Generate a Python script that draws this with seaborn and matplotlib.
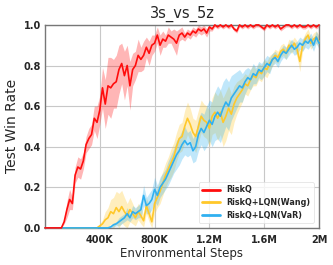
import numpy as np
import pandas as pd
import matplotlib
matplotlib.use("Agg")
import matplotlib.pyplot as plt
import seaborn as sns

# steps every 20K, 0 .. 2M
steps = [i * 20000 for i in range(101)]

riskq = [0, 0, 0, 0, 0, 0, 0.0, 0.03, 0.09, 0.14,
         0.12, 0.26, 0.30, 0.29, 0.33, 0.41, 0.44, 0.46, 0.54, 0.52,
         0.58, 0.69, 0.61, 0.70, 0.69, 0.71, 0.72, 0.78, 0.81, 0.75,
         0.80, 0.70, 0.78, 0.80, 0.85, 0.83, 0.85, 0.89, 0.86, 0.90,
         0.91, 0.95, 0.90, 0.93, 0.92, 0.95, 0.94, 0.93, 0.91, 0.95,
         0.96, 0.94, 0.96, 0.95, 0.97, 0.96, 0.98, 0.97, 0.98, 0.96,
         0.99, 0.98, 1.0, 0.99, 1.0, 0.99, 1.0, 0.99, 1.0, 0.98,
         0.97, 1.0, 0.99, 1.0, 0.99, 1.0, 0.99, 1.0, 1.0, 0.99,
         0.98, 1.0, 0.99, 1.0, 0.99, 1.0, 0.98, 0.99, 1.0, 1.0,
         0.99, 1.0, 0.99, 1.0, 0.99, 0.99, 1.0, 0.99, 1.0, 0.99,
         1.0]
riskq_sd = [0, 0, 0, 0, 0, 0, 0, 0.01, 0.04, 0.05,
            0.03, 0.04, 0.05, 0.05, 0.04, 0.04, 0.05, 0.05, 0.06, 0.08,
            0.07, 0.10, 0.12, 0.14, 0.15, 0.12, 0.13, 0.12, 0.10, 0.12,
            0.10, 0.12, 0.08, 0.07, 0.08, 0.06, 0.07, 0.05, 0.06, 0.05,
            0.04, 0.04, 0.05, 0.04, 0.03, 0.04, 0.03, 0.05, 0.06, 0.03,
            0.03, 0.02, 0.02, 0.02, 0.02, 0.02, 0.02, 0.02, 0.02, 0.02,
            0.02] + [0.01] * 40

wang = [0] * 19 + [
    0.0, 0.01, 0.02, 0.04, 0.05, 0.08, 0.07, 0.10, 0.08, 0.105,
    0.08, 0.06, 0.09, 0.07, 0.05, 0.08, 0.06, 0.035, 0.11, 0.07,
    0.03, 0.12, 0.15, 0.18, 0.22, 0.26, 0.29, 0.32, 0.35, 0.40,
    0.44, 0.45, 0.50, 0.54, 0.51, 0.47, 0.45, 0.50, 0.55, 0.53,
    0.52, 0.49, 0.55, 0.57, 0.54, 0.57, 0.52, 0.55, 0.59, 0.56,
    0.61, 0.64, 0.66, 0.68, 0.71, 0.70, 0.73, 0.75, 0.74, 0.77,
    0.76, 0.79, 0.78, 0.81, 0.83, 0.85, 0.84, 0.87, 0.88, 0.86,
    0.90, 0.89, 0.91, 0.88, 0.82, 0.90, 0.93, 0.95, 0.91, 0.93,
    0.94, 0.92]
wang_sd = [0] * 20 + [
    0.01, 0.02, 0.04, 0.05, 0.06, 0.08, 0.08, 0.09, 0.08,
    0.07, 0.06, 0.06, 0.05, 0.04, 0.04, 0.04, 0.03, 0.04, 0.04,
    0.03, 0.05, 0.05, 0.06, 0.06, 0.06, 0.06, 0.07, 0.07, 0.07,
    0.07, 0.07, 0.08, 0.08, 0.08, 0.07, 0.08, 0.08, 0.08, 0.08,
    0.08, 0.09, 0.09, 0.10, 0.11, 0.11, 0.12, 0.12, 0.11, 0.10,
    0.09, 0.08, 0.07, 0.06, 0.05, 0.05, 0.05, 0.05, 0.04, 0.04,
    0.04, 0.04, 0.04, 0.04, 0.03, 0.03, 0.03, 0.03, 0.03, 0.03,
    0.03, 0.03, 0.03, 0.04, 0.05, 0.03, 0.03, 0.03, 0.03, 0.03,
    0.03, 0.03]

var = [0] * 24 + [
    0.005, 0.015, 0.02, 0.03, 0.04, 0.05, 0.07, 0.05, 0.08, 0.07,
    0.08, 0.09, 0.16, 0.11, 0.12, 0.14, 0.19, 0.16, 0.20, 0.22,
    0.24, 0.27, 0.30, 0.33, 0.36, 0.38, 0.41, 0.43, 0.41, 0.42,
    0.38, 0.40, 0.46, 0.49, 0.47, 0.50, 0.53, 0.51, 0.55, 0.57,
    0.55, 0.59, 0.62, 0.60, 0.64, 0.66, 0.68, 0.70, 0.69, 0.72,
    0.74, 0.73, 0.76, 0.75, 0.78, 0.77, 0.79, 0.81, 0.80, 0.83,
    0.84, 0.82, 0.85, 0.87, 0.86, 0.88, 0.90, 0.88, 0.89, 0.91,
    0.90, 0.92, 0.91, 0.93, 0.90, 0.94, 0.91]
var_sd = [0] * 24 + [
    0.005, 0.01, 0.01, 0.02, 0.02, 0.02, 0.03, 0.02, 0.03, 0.03,
    0.03, 0.04, 0.05, 0.04, 0.05, 0.05, 0.06, 0.05, 0.05, 0.05,
    0.05, 0.06, 0.06, 0.06, 0.07, 0.07, 0.07, 0.07, 0.06, 0.06,
    0.06, 0.07, 0.08, 0.08, 0.09, 0.10, 0.10, 0.11, 0.12, 0.13,
    0.13, 0.13, 0.12, 0.12, 0.11, 0.10, 0.09, 0.08, 0.07, 0.06,
    0.05, 0.05, 0.05, 0.04, 0.04, 0.04, 0.04, 0.04, 0.04, 0.03,
    0.03, 0.03, 0.03, 0.03, 0.03, 0.03, 0.03, 0.03, 0.03, 0.03,
    0.03, 0.03, 0.03, 0.03, 0.03, 0.03, 0.03]

labels = ["RiskQ", "RiskQ+LQN(Wang)", "RiskQ+LQN(VaR)"]
colors = ["#ff0d0d", "#ffc82a", "#30b0f0"]
xtick_vals = [400000, 800000, 1200000, 1600000, 2000000]
xtick_labels = ["400K", "800K", "1.2M", "1.6M", "2M"]

sns.set_style("whitegrid")
plt.rcParams["font.family"] = ["DejaVu Sans"]

fig = plt.figure(figsize=(3.33, 2.65), dpi=100)
ax = fig.add_axes([0.135, 0.14, 0.823, 0.766])

series = [(riskq, riskq_sd), (wang, wang_sd), (var, var_sd)]
rows = []
for lab, (vals, sd) in zip(labels, series):
    for s, v in zip(steps, vals):
        rows.append({"step": s, "win": v, "method": lab})
df = pd.DataFrame(rows)

# bands first, then the mean lines
for (vals, sd), c in zip(series, colors):
    v = np.array(vals, dtype=float)
    e = np.array(sd, dtype=float)
    ax.fill_between(steps, np.clip(v - e, 0, 1), np.clip(v + e, 0, 1),
                    color=c, alpha=0.3, linewidth=0)

sns.lineplot(data=df, x="step", y="win", hue="method", hue_order=labels,
             palette=colors, linewidth=1.2, ax=ax, errorbar=None)
# red on top so it shows along the bottom edge at the start
for ln, z in zip(ax.get_lines(), [3.2, 3.0, 3.1]):
    ln.set_clip_on(False)
    ln.set_zorder(z)

ax.set_xlim(0, 2000000)
ax.set_ylim(0, 1.0)
ax.set_xticks(xtick_vals)
ax.set_xticklabels(xtick_labels)
ax.set_yticks([0, 0.2, 0.4, 0.6, 0.8, 1.0])
ax.set_yticklabels(["0.0", "0.2", "0.4", "0.6", "0.8", "1.0"])
for t in ax.get_xticklabels() + ax.get_yticklabels():
    t.set_fontweight("bold")
    t.set_fontsize(7)
ax.tick_params(axis="x", pad=5, length=0)
ax.tick_params(axis="y", pad=3, length=0)
ax.grid(True, color="#c8c8c8", linewidth=0.8)
for sp in ax.spines.values():
    sp.set_color("#777777")
    sp.set_linewidth(1.0)

ax.set_xlabel("Environmental Steps", fontsize=8.5, labelpad=1.5)
ax.set_ylabel("Test Win Rate", fontsize=10, labelpad=3)
ax.set_title("3s_vs_5z", fontsize=10.5, pad=5)

handles, _ = ax.get_legend_handles_labels()
for h in handles:
    h.set_linewidth(2)
leg = ax.legend(handles, labels, loc="lower right",
                prop={"weight": "bold", "size": 5.8}, handlelength=2.2,
                frameon=True, borderpad=0.4, labelspacing=0.45,
                bbox_to_anchor=(0.995, 0.005))
leg.get_frame().set_edgecolor("#dddddd")
leg.get_frame().set_linewidth(0.6)
leg.set_zorder(5)

fig.savefig("out.png", dpi=100)
